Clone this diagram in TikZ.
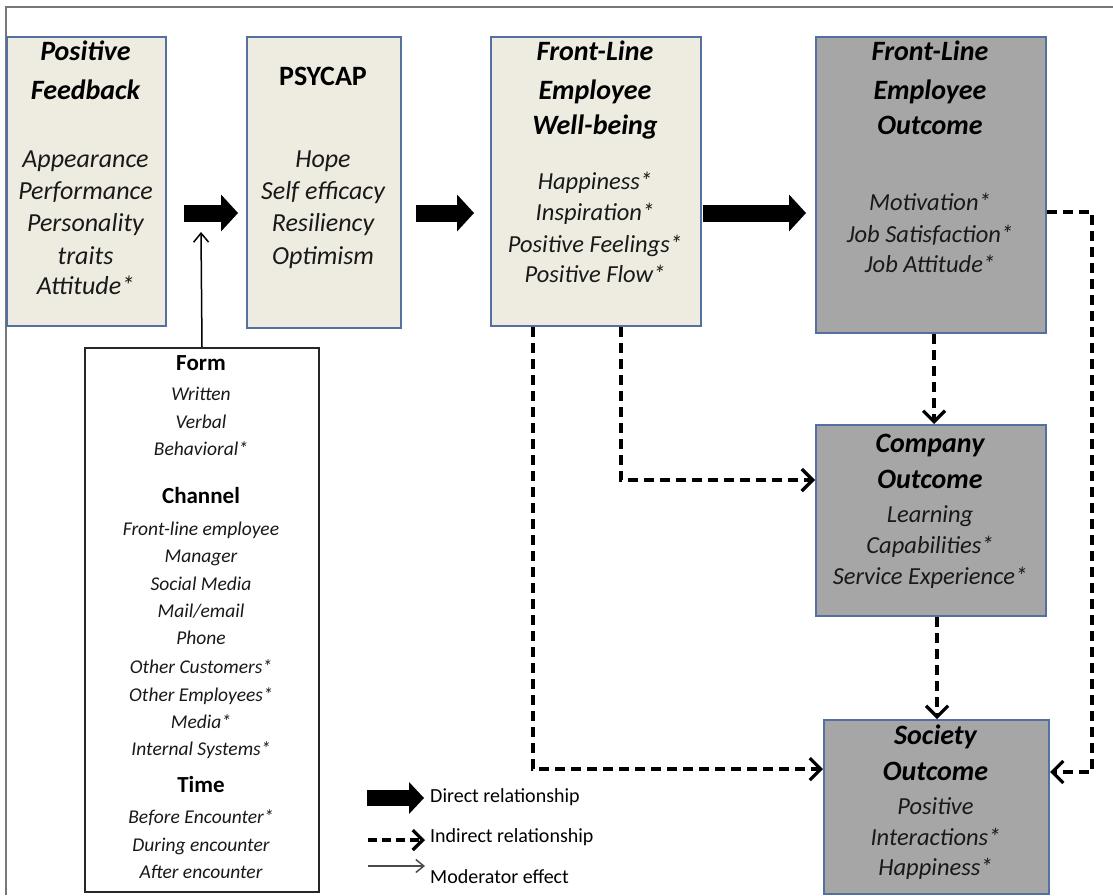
\documentclass[tikz,border=0pt]{standalone}
\usepackage{fontspec}
\setmainfont{Carlito}
\usetikzlibrary{arrows.meta,calc}
\definecolor{boxblue}{RGB}{84,112,160}
\definecolor{beige}{RGB}{238,236,225}
\definecolor{boxgray}{RGB}{166,166,166}
\definecolor{framegray}{RGB}{120,120,120}
\tikzset{
  bx/.style={rectangle, inner sep=0pt, line width=2pt, anchor=north west},
  lightbox/.style={bx, draw=boxblue, fill=beige},
  darkbox/.style={bx, draw=boxblue, fill=boxgray},
  modbox/.style={bx, draw=black!85, fill=white},
  txt/.style={inner sep=0pt, anchor=center, text height=0.72em, text depth=0.22em},
  head/.style={txt, font=\fontsize{28}{30}\selectfont\bfseries\itshape},
  headup/.style={txt, font=\fontsize{28}{30}\selectfont\bfseries},
  item/.style={txt, font=\fontsize{26}{28}\selectfont\itshape, text=black!90},
  itemw/.style={txt, font=\fontsize{24.5}{26}\selectfont\itshape, text=black!90},
  modhead/.style={txt, font=\fontsize{23}{25}\selectfont\bfseries},
  moditem/.style={txt, font=\fontsize{19.5}{21}\selectfont\itshape, text=black!90},
  legtext/.style={inner sep=0pt, anchor=west, text height=0.72em, text depth=0.22em, font=\fontsize{20}{22}\selectfont},
  direct/.style={line width=17pt, -{Triangle[length=17pt,width=37pt,line width=0pt]}},
  indirect/.style={line width=3.2pt, dash pattern=on 10pt off 6pt, -{Straight Barb[length=11pt,width=22pt]}},
  moder/.style={line width=1.5pt, -{Straight Barb[length=9pt,width=15pt]}},
}
\begin{document}
\begin{tikzpicture}[x=1pt, y=-1pt]
\useasboundingbox (0,0) rectangle (1113,895);
% outer frame
\draw[framegray, line width=1.5pt] (6,895) -- (6,7) -- (1113,7);

% boxes
\node[lightbox, minimum width=159, minimum height=289] (pf) at (6,36) {};
\node[lightbox, minimum width=154, minimum height=291] (psy) at (246,36) {};
\node[lightbox, minimum width=210, minimum height=289] (wb) at (490,36) {};
\node[darkbox, minimum width=230, minimum height=296] (fo) at (815,36) {};
\node[darkbox, minimum width=230, minimum height=191] (co) at (815,424) {};
\node[darkbox, minimum width=225, minimum height=174] (so) at (823,719) {};
\node[modbox, minimum width=234, minimum height=544] (mod) at (84,347) {};

% Positive Feedback
\node[head] (pf1) at (85.5,58) {Positive};
\node[head] (pf2) at (85.5,97) {Feedback};
\node[item] (pf3) at (85.5,165) {Appearance};
\node[item] (pf4) at (85.5,197) {Performance};
\node[item] (pf5) at (85.5,229) {Personality};
\node[item] (pf6) at (85.5,262) {traits};
\node[item] (pf7) at (85.5,292) {Attitude*};

% PSYCAP
\node[headup] (ps1) at (323,83) {PSYCAP};
\node[item] (ps2) at (323,165) {Hope};
\node[item] (ps3) at (323,197) {Self efficacy};
\node[item] (ps4) at (323,229) {Resiliency};
\node[item] (ps5) at (323,262) {Optimism};

% Well-being
\node[head] (wb1) at (595,58) {Front-Line};
\node[head] (wb2) at (595,97) {Employee};
\node[head] (wb3) at (595,132) {Well-being};
\node[itemw] (wb4) at (595,187) {Happiness*};
\node[itemw] (wb5) at (595,218) {Inspiration*};
\node[itemw] (wb6) at (595,250) {Positive Feelings*};
\node[itemw] (wb7) at (595,280) {Positive Flow*};

% FLE Outcome
\node[head] (fo1) at (930,58) {Front-Line};
\node[head] (fo2) at (930,97) {Employee};
\node[head] (fo3) at (930,132) {Outcome};
\node[itemw] (fo4) at (930,208) {Motivation*};
\node[itemw] (fo5) at (930,240) {Job Satisfaction*};
\node[itemw] (fo6) at (930,270) {Job Attitude*};

% Company Outcome
\node[head] (co1) at (930,450) {Company};
\node[head] (co2) at (930,486) {Outcome};
\node[itemw] (co3) at (930,520) {Learning};
\node[itemw] (co4) at (930,551) {Capabilities*};
\node[itemw] (co5) at (930,582) {Service Experience*};

% Society Outcome
\node[head] (so1) at (935.5,742) {Society};
\node[head] (so2) at (935.5,778) {Outcome};
\node[itemw] (so3) at (935.5,812) {Positive};
\node[itemw] (so4) at (935.5,843) {Interactions*};
\node[itemw] (so5) at (935.5,873) {Happiness*};

% Moderator box
\node[modhead] (m1) at (201,368) {Form};
\node[moditem] (m2) at (201,398) {Written};
\node[moditem] (m3) at (201,426) {Verbal};
\node[moditem] (m4) at (201,453) {Behavioral*};
\node[modhead] (m5) at (201,501) {Channel};
\node[moditem] (m6) at (201,533) {Front-line employee};
\node[moditem] (m7) at (201,560) {Manager};
\node[moditem] (m8) at (201,588) {Social Media};
\node[moditem] (m9) at (201,615) {Mail/email};
\node[moditem] (m10) at (201,642) {Phone};
\node[moditem] (m11) at (201,671) {Other Customers*};
\node[moditem] (m12) at (201,699) {Other Employees*};
\node[moditem] (m13) at (201,726) {Media*};
\node[moditem] (m14) at (201,753) {Internal Systems*};
\node[modhead] (m15) at (201,790) {Time};
\node[moditem] (m16) at (201,821) {Before Encounter*};
\node[moditem] (m17) at (201,849) {During encounter};
\node[moditem] (m18) at (201,876) {After encounter};

% direct arrows
\draw[direct, shorten <=17pt, shorten >=8pt] ($(pf.north east)+(0,177)$) -- ($(psy.north west)+(0,177)$);
\draw[direct, shorten <=14pt, shorten >=16pt] ($(psy.north east)+(0,177)$) -- ($(wb.north west)+(0,177)$);
\draw[direct, shorten <=1pt, shorten >=9pt] ($(wb.north east)+(0,177)$) -- ($(fo.north west)+(0,177)$);

% moderator arrow
\coordinate (modtip) at (201,232);
\draw[moder] (mod.north) -- (modtip);

% indirect arrows
\draw[indirect] ($(wb.south west)+(131,0)$) |- ($(co.north west)+(0,56)$);
\draw[indirect] ($(wb.south west)+(43,0)$) |- ($(so.north west)+(0,50)$);
\draw[indirect] ($(fo.south west)+(119,0)$) -- ($(co.north west)+(119,0)$);
\draw[indirect] ($(co.south west)+(122,0)$) -- ($(so.north west)+(114,0)$);
\draw[indirect] ($(fo.north east)+(0,176)$) -| ($(fo.north east)+(45,300)$) |- ($(so.north east)+(0,53)$);

% legend
\coordinate (l1a) at (367,798); \coordinate (l1b) at (424,798);
\coordinate (l2a) at (368,840); \coordinate (l2b) at (425,840);
\coordinate (l3a) at (368,866); \coordinate (l3b) at (425,866);
\draw[line width=16pt, -{Triangle[length=15pt,width=32pt,line width=0pt]}] (l1a) -- (l1b);
\draw[line width=3.2pt, dash pattern=on 9pt off 5pt, -{Straight Barb[length=10pt,width=20pt]}] (l2a) -- (l2b);
\draw[black!70, line width=1.5pt, -{Straight Barb[length=8pt,width=13pt]}] (l3a) -- (l3b);
\node[legtext] (lt1) at (430,800) {Direct relationship};
\node[legtext] (lt2) at (430,840) {Indirect relationship};
\node[legtext] (lt3) at (430,881) {Moderator effect};
\end{tikzpicture}
\end{document}
